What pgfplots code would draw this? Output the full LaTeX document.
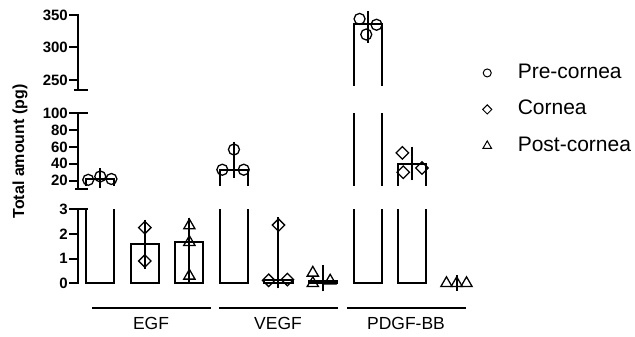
\documentclass[border=0pt]{standalone}
\usepackage{fontspec}
\setmainfont{Liberation Sans}
\usepackage{pgfplots}
\usepackage{pgfplotstable}
\pgfplotsset{compat=1.18}

% bars: median of each group (0..2 EGF, 3..5 VEGF, 6..8 PDGF-BB)
\pgfplotstableread{
x y
0 22.5
1 1.57
2 1.66
3 33
4 0.15
5 0.08
6 336
7 40
}\bars
% the bars that reach the middle segment (above 10)
\pgfplotstableread{
x y
0 22.5
3 33
6 336
7 40
}\barsmid
% the bar that reaches the top segment (above 235)
\pgfplotstableread{
x y
6 336
}\barstop
% error bars (range): x y plus minus
\pgfplotstableread{
x y ep em
1 1.57 0.68 0.67
2 1.66 0.67 1.33
4 0.15 2.20 0.03
5 0.08 0.34 0.08
8 0 0 0
}\errlow
\pgfplotstableread{
x y ep em
0 22.5 2.5 1.5
3 33 24 0
7 40 11 10
}\errmid
\pgfplotstableread{
x y ep em
6 336 8 16
}\errtop
% individual points
\pgfplotstableread{
x y
1 2.25
1 0.9
4 2.35
3.78 0.12
4.2 0.15
}\diaLow
\pgfplotstableread{
x y
2 2.33
2 1.66
2 0.3
4.77 0.42
4.77 0.0
5.16 0.1
7.77 0
8 0
8.22 0
}\triLow
\pgfplotstableread{
x y
-0.27 21
0 25
0.25 22
2.74 33
3 57
3.22 33
}\cirMid
\pgfplotstableread{
x y
6.78 53
6.8 30
7.22 35
}\diaMid
\pgfplotstableread{
x y
5.82 344
6.2 335
5.97 320
}\cirTop

\pgfplotsset{
  seg/.style={scale only axis, width=401pt, xmin=-0.5, xmax=8.5,
    axis x line=none, axis y line*=left,
    axis line style={line width=2pt, black, line cap=rect},
    every tick/.style={line width=2pt, black},
    major tick length=9pt, tick align=outside, ytick pos=left,
    xtick=\empty,
    yticklabel style={font=\fontsize{15}{15}\selectfont\bfseries, inner xsep=1pt},
    /pgf/number format/assume math mode=true},
  pts/.style={scale only axis, width=401pt, xmin=-0.5, xmax=8.5,
    hide axis, clip=false},
  barplot/.style={ybar, bar width=0.63, draw=black, fill=white, line width=2pt},
  errplot/.style={draw=none, mark=none, forget plot,
    error bars/.cd, y dir=both, y explicit,
    error bar style={line width=2pt, black},
    error mark options={line width=2pt, black, mark size=8pt}},
  cir/.style={only marks, mark=o, mark size=5.5pt, mark options={line width=1.3pt, black}, forget plot},
  dia/.style={only marks, mark=square, mark size=4.4pt, mark options={line width=1.3pt, black, rotate=45}, forget plot},
  tri/.style={only marks, mark=triangle, mark size=6.5pt, mark options={line width=1.3pt, black}, forget plot},
}

\begin{document}
\begin{tikzpicture}
\useasboundingbox (0pt,0pt) rectangle (635pt,-337pt);

% ---------- bottom segment 0..3
\begin{axis}[seg, at={(78pt,-283.3pt)}, anchor=south west, height=74.3pt,
  ymin=0, ymax=3, ytick={0,1,2,3},
  axis x line*=bottom, xtick={0,...,8}, xticklabels={}, xtick pos=bottom]
  \addplot[barplot] table[x=x,y=y] {\bars};
\end{axis}
\begin{axis}[pts, at={(78pt,-283.3pt)}, anchor=south west, height=74.3pt, ymin=0, ymax=3]
  \draw[line width=2pt, line cap=rect] (rel axis cs:0,1) -- ++(9pt,0pt);
  \addplot[dia] table {\diaLow};
  \addplot[tri] table {\triLow};
  \addplot[errplot] table[x=x, y=y, y error plus=ep, y error minus=em] {\errlow};
\end{axis}

% ---------- middle segment 10..100
\begin{axis}[seg, at={(78pt,-189.1pt)}, anchor=south west, height=75.8pt,
  ymin=10, ymax=100, ytick={20,40,60,80,100}]
  \addplot[barplot] table[x=x,y=y] {\barsmid};
\end{axis}
\begin{axis}[pts, at={(78pt,-189.1pt)}, anchor=south west, height=75.8pt, ymin=10, ymax=100]
  \fill[white] ([xshift=1.6pt, yshift=-1pt]rel axis cs:0,0) rectangle ([yshift=3.6pt]rel axis cs:1,0);
  \draw[line width=2pt, line cap=rect] (rel axis cs:0,1) -- ++(9pt,0pt);
  \draw[line width=2pt, line cap=rect] (rel axis cs:0,0) ++(-2pt,0pt) -- ++(11pt,0pt);
  \addplot[cir] table {\cirMid};
  \addplot[dia] table {\diaMid};
  \addplot[errplot] table[x=x, y=y, y error plus=ep, y error minus=em] {\errmid};
\end{axis}

% ---------- top segment 235..350
\begin{axis}[seg, at={(78pt,-89.75pt)}, anchor=south west, height=74.75pt,
  ymin=235, ymax=350, ytick={250,300,350}]
  \addplot[barplot] table[x=x,y=y] {\barstop};
\end{axis}
\begin{axis}[pts, at={(78pt,-89.75pt)}, anchor=south west, height=74.75pt, ymin=235, ymax=350,
  legend style={at={(rel axis cs:1.0088,0.358)}, anchor=north west, draw=none, fill=none,
    inner sep=0pt, font=\fontsize{21}{21}\selectfont, row sep=17pt,
    nodes={inner sep=0pt, text height=15pt, text depth=4.5pt},
    /tikz/every odd column/.append style={column sep=26pt}},
  legend cell align=left]
  \addlegendimage{only marks, mark=o, mark size=4pt, mark options={line width=1pt, black}}
  \addlegendentry{Pre-cornea}
  \addlegendimage{only marks, mark=square, mark size=3.2pt, mark options={line width=1pt, black, rotate=45}}
  \addlegendentry{Cornea}
  \addlegendimage{only marks, mark=triangle, mark size=5pt, mark options={line width=1pt, black}}
  \addlegendentry{Post-cornea}
  \fill[white] ([xshift=1.6pt, yshift=-1pt]rel axis cs:0,0) rectangle ([yshift=3.6pt]rel axis cs:1,0);
  \draw[line width=2pt, line cap=rect] (rel axis cs:0,0) ++(-3pt,0pt) -- ++(12pt,0pt);
  \addplot[cir] table {\cirTop};
  \addplot[errplot] table[x=x, y=y, y error plus=ep, y error minus=em] {\errtop};
\end{axis}

% ---------- labels and group lines
\node[rotate=90, font=\fontsize{16}{16}\selectfont\bfseries] at (20pt,-151.5pt) {Total amount (pg)};
\draw[line width=2pt] (92pt,-308pt) -- (211pt,-308pt);
\draw[line width=2pt] (219pt,-308pt) -- (338pt,-308pt);
\draw[line width=2pt] (347pt,-308pt) -- (466pt,-308pt);
\node[anchor=base, font=\fontsize{17.5}{17.5}\selectfont] at (151pt,-329.5pt) {EGF};
\node[anchor=base, font=\fontsize{17.5}{17.5}\selectfont] at (278pt,-329.5pt) {VEGF};
\node[anchor=base, font=\fontsize{17.5}{17.5}\selectfont] at (406pt,-329.5pt) {PDGF-BB};
\end{tikzpicture}
\end{document}
